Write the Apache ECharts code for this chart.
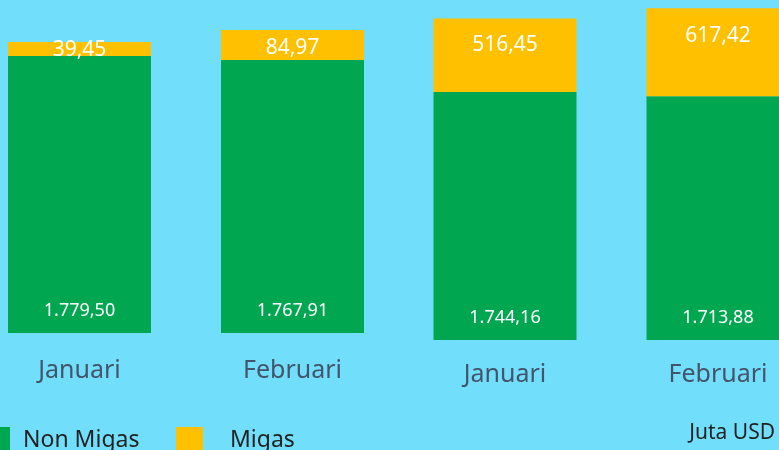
<!DOCTYPE html>
<html>
<head>
<meta charset="utf-8">
<script src="https://cdn.jsdelivr.net/npm/echarts@6/dist/echarts.min.js"></script>
<style>
  html, body { margin: 0; padding: 0; background: #71DFFC; }
  #chart { width: 779px; height: 450px; }
</style>
</head>
<body>
<div id="chart"></div>
<script>
// two periods, each drawn on its own grid
const monthsA = ["Januari", "Februari"]
const nonMigasA = [1779.50, 1767.91]
const migasA = [39.45, 84.97]

const monthsB = ["Januari", "Februari"]
const nonMigasB = [1744.16, 1713.88]
const migasB = [516.45, 617.42]

const unitLabel = "Juta USD"

const fmt = (v) => {
  const parts = v.toFixed(2).split(".")
  parts[0] = parts[0].replace(/\B(?=(\d{3})+(?!\d))/g, ".")
  return parts.join(",")
}

const GREEN = "#00A650"
const YELLOW = "#FFC000"
const FONT = "Noto Sans"

const chart = echarts.init(document.getElementById("chart"))

const greenLabel = {
  show: true,
  position: "insideBottom",
  distance: 13,
  color: "#fff",
  fontSize: 18,
  fontFamily: FONT,
  formatter: (p) => fmt(p.value),
}
const yellowLabel = (d) => ({
  show: true,
  position: "insideTop",
  distance: d,
  color: "#fff",
  fontSize: 21,
  fontFamily: FONT,
  formatter: (p) => fmt(p.value),
})

const option = {
  backgroundColor: "#71DFFC",
  animation: false,
  title: {
    text: unitLabel,
    right: 4,
    top: 423,
    padding: 0,
    textStyle: { fontSize: 21, fontWeight: "normal", color: "#222", fontFamily: FONT },
  },
  legend: [
    {
      data: ["Non Migas"],
      left: -17,
      top: 427,
      padding: 0,
      icon: "rect",
      itemWidth: 27,
      itemHeight: 27,
      textStyle: { fontSize: 23, color: "#222", fontFamily: FONT, padding: [0, 0, 0, 8] },
    },
    {
      data: ["Migas"],
      left: 176,
      top: 427,
      padding: 0,
      icon: "rect",
      itemWidth: 27,
      itemHeight: 27,
      textStyle: { fontSize: 23, color: "#222", fontFamily: FONT, padding: [0, 0, 0, 22] },
    },
  ],
  grid: [
    { left: -27, width: 426, top: 0, height: 333, outerBoundsMode: "none", containLabel: false },
    { left: 398.5, width: 426, top: 0, height: 340, outerBoundsMode: "none", containLabel: false },
  ],
  xAxis: [
    {
      gridIndex: 0,
      type: "category",
      data: monthsA,
      axisLine: { show: false },
      axisTick: { show: false },
      axisLabel: { color: "#44546A", fontSize: 25, fontFamily: FONT, margin: 25 },
    },
    {
      gridIndex: 1,
      type: "category",
      data: monthsB,
      axisLine: { show: false },
      axisTick: { show: false },
      axisLabel: { color: "#44546A", fontSize: 25, fontFamily: FONT, margin: 22 },
    },
  ],
  yAxis: [
    { gridIndex: 0, type: "value", min: 1000, max: 1937, show: false, splitLine: { show: false } },
    { gridIndex: 1, type: "value", min: 0, max: 2390, show: false, splitLine: { show: false } },
  ],
  series: [
    {
      name: "Non Migas",
      type: "bar",
      stack: "a",
      xAxisIndex: 0,
      yAxisIndex: 0,
      barWidth: 143,
      itemStyle: { color: GREEN },
      label: greenLabel,
      data: nonMigasA,
    },
    {
      name: "Migas",
      type: "bar",
      stack: "a",
      xAxisIndex: 0,
      yAxisIndex: 0,
      barWidth: 143,
      itemStyle: { color: YELLOW },
      data: migasA.map((v, i) => ({ value: v, label: yellowLabel([-2, 8][i]) })),
    },
    {
      name: "Non Migas",
      type: "bar",
      stack: "b",
      xAxisIndex: 1,
      yAxisIndex: 1,
      barWidth: 143,
      itemStyle: { color: GREEN },
      label: greenLabel,
      data: nonMigasB,
    },
    {
      name: "Migas",
      type: "bar",
      stack: "b",
      xAxisIndex: 1,
      yAxisIndex: 1,
      barWidth: 143,
      itemStyle: { color: YELLOW },
      data: migasB.map((v, i) => ({ value: v, label: yellowLabel([16, 17][i]) })),
    },
  ],
}
chart.setOption(option)
</script>
</body>
</html>
